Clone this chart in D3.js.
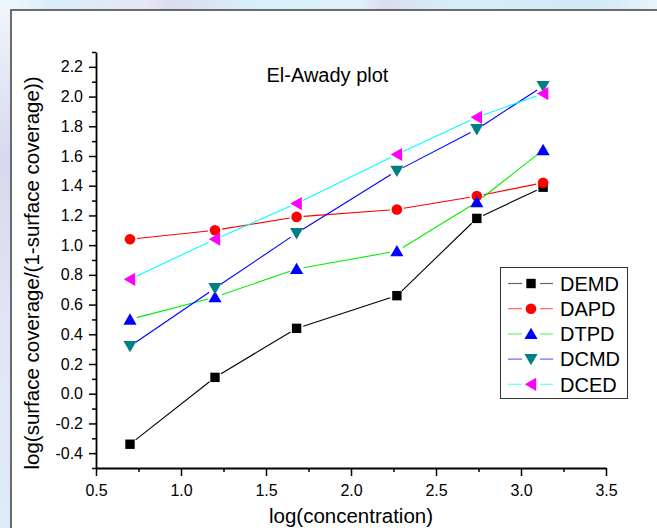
<!DOCTYPE html>
<html><head><meta charset="utf-8">
<script src="https://cdn.jsdelivr.net/npm/d3@7"></script>
<style>
html,body{margin:0;padding:0;}
body{width:657px;height:528px;overflow:hidden;background:#e4f3fa;}
svg{display:block;}
text{font-family:"Liberation Sans",Arial,sans-serif;fill:#000;}
</style></head>
<body>
<svg id="chart" width="657" height="528"></svg>
<script>
// ---- data ----
const xValues = [0.70, 1.20, 1.68, 2.27, 2.74, 3.13];
const seriesNames = ["DEMD", "DAPD", "DTPD", "DCMD", "DCED"];
const demd = [-0.34, 0.11, 0.44, 0.66, 1.18, 1.39];
const dapd = [1.04, 1.10, 1.19, 1.24, 1.33, 1.42];
const dtpd = [0.50, 0.65, 0.84, 0.96, 1.29, 1.64];
const dcmd = [0.32, 0.71, 1.08, 1.50, 1.78, 2.07];
const dced = [0.77, 1.04, 1.28, 1.61, 1.86, 2.02];
const xTicks = [0.5, 1.0, 1.5, 2.0, 2.5, 3.0, 3.5];
const yTicks = [-0.4, -0.2, 0.0, 0.2, 0.4, 0.6, 0.8, 1.0, 1.2, 1.4, 1.6, 1.8, 2.0, 2.2];
const title = "El-Awady plot";
const xTitle = "log(concentration)";
const yTitle = "log(surface coverage/(1-surface coverage))";

const seriesValues = [demd, dapd, dtpd, dcmd, dced];
const lineColors = ["#000000", "#ff0000", "#00ee00", "#0000ff", "#00ffff"];
const markerColors = ["#000000", "#ff0000", "#0000ff", "#008080", "#ff00ff"];
const markerShapes = ["square", "circle", "up", "down", "left"];

const svg = d3.select("#chart");

// background decorations
const defs = svg.append("defs");
const g1 = defs.append("linearGradient").attr("id","bg").attr("x1","0").attr("x2","1").attr("y1","0").attr("y2","0");
[[0,"#f4f9fc"],[0.08,"#d8eef8"],[0.22,"#e6e6f4"],[0.26,"#dcdcf0"],[0.4,"#d6f2fa"],[0.55,"#e0f0f8"],[0.58,"#dcdcf0"],[0.7,"#d4eef9"],[0.9,"#cfe9f7"],[1,"#e8f4fb"]]
  .forEach(s=>g1.append("stop").attr("offset",s[0]).attr("stop-color",s[1]));
const g2 = defs.append("linearGradient").attr("id","bgl").attr("x1","0").attr("x2","0").attr("y1","0").attr("y2","1");
[[0,"#eef7fb"],[0.3,"#d8d8ee"],[0.6,"#e2e4f4"],[1,"#dcecf6"]]
  .forEach(s=>g2.append("stop").attr("offset",s[0]).attr("stop-color",s[1]));
svg.append("rect").attr("x",0).attr("y",0).attr("width",657).attr("height",528).attr("fill","url(#bg)");
svg.append("rect").attr("x",0).attr("y",0).attr("width",12).attr("height",528).attr("fill","url(#bgl)");

// frame
svg.append("rect").attr("x",11).attr("y",10).attr("width",660).attr("height",530)
  .attr("fill","#ffffff").attr("stroke","#4a4a4a").attr("stroke-width",1.6);

const x = d3.scaleLinear().domain([0.5, 3.5]).range([96, 606]);
const y = d3.scaleLinear().domain([-0.5, 2.3]).range([468, 52]);
const fmt = v => d3.format(".1f")(v).replace("\u2212","-");

// minor ticks
const xMinor = d3.range(0.75, 3.5, 0.5);
const yMinor = d3.range(-0.5, 2.31, 0.2).map(v=>Math.round(v*10)/10);

const axX = svg.append("g").attr("transform","translate(0,468)")
  .call(d3.axisBottom(x).tickValues(xTicks).tickFormat(fmt).tickSize(8).tickSizeOuter(0));
svg.append("g").attr("transform","translate(0,468)")
  .call(d3.axisBottom(x).tickValues(xMinor).tickFormat("").tickSize(4).tickSizeOuter(0))
  .select(".domain").remove();
const axY = svg.append("g").attr("transform","translate(96,0)")
  .call(d3.axisLeft(y).tickValues(yTicks).tickFormat(fmt).tickSize(7).tickPadding(6).tickSizeOuter(0));
svg.append("g").attr("transform","translate(96,0)")
  .call(d3.axisLeft(y).tickValues(yMinor).tickFormat("").tickSize(4).tickSizeOuter(0))
  .select(".domain").remove();

svg.selectAll(".tick line").attr("stroke","#000").attr("stroke-width",1.5);
svg.selectAll(".domain").attr("stroke","#000").attr("stroke-width",1.8);
axX.selectAll("text").attr("y",28).attr("dy",0).style("font-size","16px").style("font-family","Liberation Sans, Arial, sans-serif");
axY.selectAll("text").style("font-size","16px").style("font-family","Liberation Sans, Arial, sans-serif");

// titles
svg.append("text").attr("x",266.5).attr("y",82).style("font-size","20px").text(title);
svg.append("text").attr("x",351).attr("y",523).attr("text-anchor","middle").style("font-size","20.5px").text(xTitle);
svg.append("text").attr("transform","translate(39,273) rotate(-90)").attr("text-anchor","middle").style("font-size","20.5px").text(yTitle);

// marker path generator
function markerPath(shape){
  switch(shape){
    case "square": return "M-4.7,-4.7H4.7V4.7H-4.7Z";
    case "circle": return d3.symbol(d3.symbolCircle, Math.PI*5.3*5.3)();
    case "up": return "M0,-6.2L6.6,5.2L-6.6,5.2Z";
    case "down": return "M0,6.2L6.6,-5.2L-6.6,-5.2Z";
    case "left": return "M-6.2,0L5.2,-6.6L5.2,6.6Z";
  }
}

// series
const gap = 7;
seriesValues.forEach((vals, si) => {
  const pts = vals.map((v,i)=>[x(xValues[i]), y(v)]);
  const g = svg.append("g");
  for(let i=0;i<pts.length-1;i++){
    const [x0,y0]=pts[i],[x1,y1]=pts[i+1];
    const len=Math.hypot(x1-x0,y1-y0), ux=(x1-x0)/len, uy=(y1-y0)/len;
    g.append("line").attr("x1",x0+ux*gap).attr("y1",y0+uy*gap).attr("x2",x1-ux*gap).attr("y2",y1-uy*gap)
      .attr("stroke",lineColors[si]).attr("stroke-width",1.1);
  }
});
seriesValues.forEach((vals, si) => {
  svg.append("g").selectAll("path").data(vals).join("path")
    .attr("d", markerPath(markerShapes[si]))
    .attr("transform",(v,i)=>`translate(${x(xValues[i])},${y(v)})`)
    .attr("fill",markerColors[si]);
});

// legend
const lg = svg.append("g");
lg.append("rect").attr("x",500.5).attr("y",267.5).attr("width",127).attr("height",131)
  .attr("fill","#fff").attr("stroke","#333").attr("stroke-width",1);
seriesNames.forEach((name, si) => {
  const cy = 283.5 + si*25.2;
  lg.append("line").attr("x1",508).attr("x2",522).attr("y1",cy).attr("y2",cy).attr("stroke",lineColors[si]).attr("stroke-opacity",0.6).attr("stroke-width",1.2);
  lg.append("line").attr("x1",540).attr("x2",553).attr("y1",cy).attr("y2",cy).attr("stroke",lineColors[si]).attr("stroke-opacity",0.6).attr("stroke-width",1.2);
  lg.append("path").attr("d",markerPath(markerShapes[si])).attr("transform",`translate(531,${cy})`).attr("fill",markerColors[si]);
  lg.append("text").attr("x",560).attr("y",cy+7.3).style("font-size","20px").text(name);
});
</script>
</body></html>
